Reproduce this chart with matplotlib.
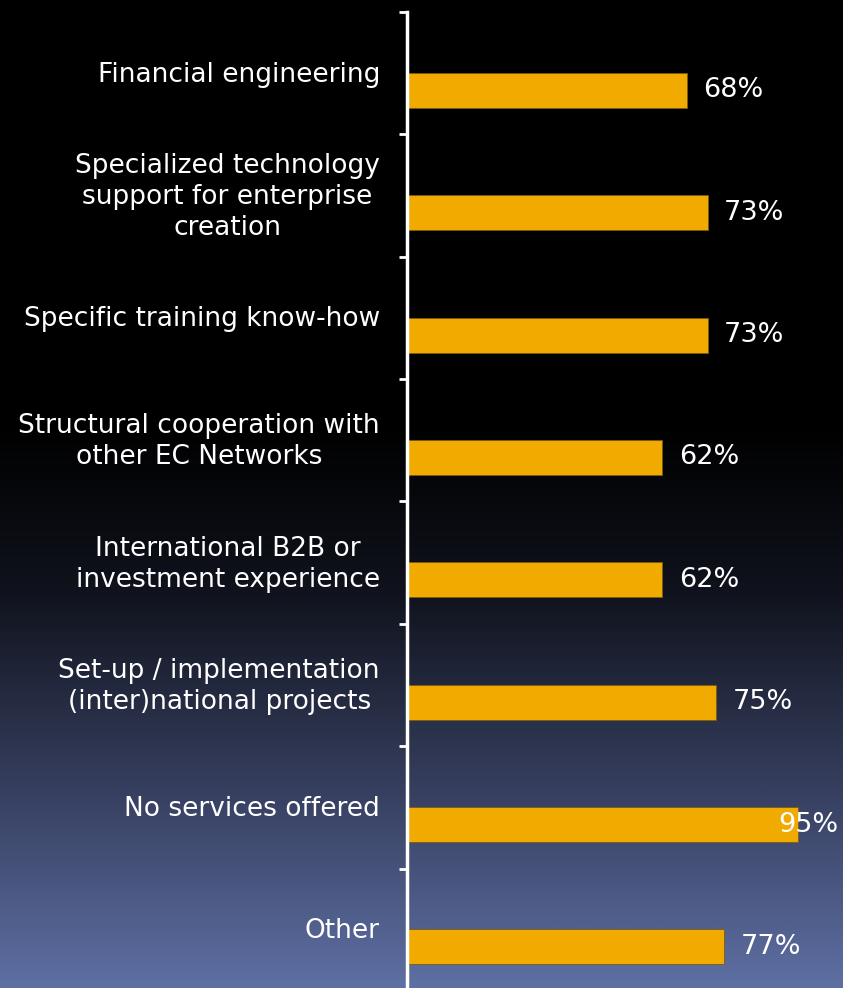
import numpy as np
import matplotlib
matplotlib.use("Agg")
import matplotlib.pyplot as plt
from matplotlib.colors import LinearSegmentedColormap

categories = [
    "Financial engineering",
    "Specialized technology\nsupport for enterprise\ncreation",
    "Specific training know-how",
    "Structural cooperation with\nother EC Networks",
    "International B2B or\ninvestment experience",
    "Set-up / implementation\n(inter)national projects",
    "No services offered",
    "Other",
]
values = [68, 73, 73, 62, 62, 75, 95, 77]
value_labels = ["68%", "73%", "73%", "62%", "62%", "75%", "95%", "77%"]

fig = plt.figure(figsize=(8.43, 9.88), dpi=100)

# background gradient: black on top, slate blue at the bottom
bg = fig.add_axes([0, 0, 1, 1])
bg.set_axis_off()
cmap = LinearSegmentedColormap.from_list(
    "bg", [(0, "#000000"), (0.43, "#000000"), (0.6, "#10131d"), (0.8, "#363f5f"), (1.0, "#5e6fa3")])
grad = np.linspace(0, 1, 512).reshape(-1, 1)
bg.imshow(grad, aspect="auto", cmap=cmap, extent=[0, 1, 0, 1], origin="upper")

ax = fig.add_axes([0.4828, -0.003, 0.4887, 0.9909])
ax.patch.set_alpha(0)

y = np.arange(len(categories))
ax.barh(y + 0.14, values, height=0.286, color="#f0aa00", edgecolor="#7a5c10", linewidth=0.6)

ax.set_xlim(0, 100)
ax.set_ylim(len(categories) - 0.5, -0.5)

for s in ["top", "right", "bottom"]:
    ax.spines[s].set_visible(False)
ax.spines["left"].set_color("white")
ax.spines["left"].set_linewidth(2.5)
ax.set_xticks([])
ax.set_yticks(np.arange(len(categories) + 1) - 0.5)
ax.set_yticklabels([])
ax.tick_params(axis="y", direction="out", length=6, width=2, color="white")

for i, cat in enumerate(categories):
    ax.annotate(cat, xy=(0, i), xycoords=("axes fraction", "data"),
                xytext=(-19.5, -1), textcoords="offset points",
                ha="right", va="center", multialignment="center",
                color="white", fontsize=19, linespacing=1.25)

for i, (v, lab) in enumerate(zip(values, value_labels)):
    ax.text(min(v + 4, 90), i + 0.14, lab, ha="left", va="center",
            color="white", fontsize=19.5)

fig.savefig("out.png", dpi=100)
